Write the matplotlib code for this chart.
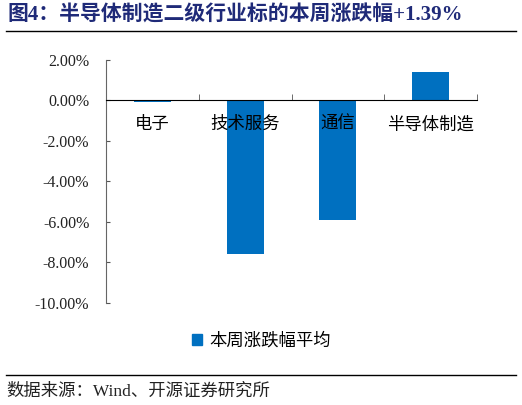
import matplotlib.pyplot as plt
from matplotlib.patches import Patch
from matplotlib.ticker import FuncFormatter, FixedLocator

plt.rcParams['font.family'] = ['Liberation Serif', 'Noto Sans CJK SC', 'DejaVu Sans']

# 数据
categories = ['电子', '技术服务', '通信', '半导体制造']
weekly_change = [-0.08, -7.60, -5.92, 1.39]
series_name = '本周涨跌幅平均'
title = '图4：半导体制造二级行业标的本周涨跌幅+1.39%'
source = '数据来源：Wind、开源证券研究所'

bar_color = '#0070C0'
navy = '#1F2A78'

fig = plt.figure(figsize=(5.22, 4.05), dpi=100)
ax = fig.add_axes([0.203, 0.252, 0.711, 0.600])

x = list(range(len(categories)))
ax.bar(x, weekly_change, width=0.4, color=bar_color, zorder=1)

ax.set_xlim(-0.5, len(categories) - 0.5)
ax.set_ylim(-10, 2)
ax.set_yticks([2, 0, -2, -4, -6, -8, -10])
ax.yaxis.set_major_formatter(FuncFormatter(lambda v, p: f'{v:.2f}%'))
for t in ax.get_yticklabels():
    t.set_fontsize(11.5)
    t.set_color('#222222')
ax.tick_params(axis='y', direction='in', length=3, pad=12, color='#555555')

for s in ['top', 'right']:
    ax.spines[s].set_visible(False)
ax.spines['left'].set_color('#666666')
ax.spines['bottom'].set_position(('data', 0))
ax.spines['bottom'].set_color('black')
ax.spines['bottom'].set_zorder(3)

ax.set_xticks(x)
ax.set_xticklabels(categories, fontsize=12.5, zorder=4)
ax.tick_params(axis='x', which='major', length=0, pad=12)
ax.xaxis.set_minor_locator(FixedLocator([i + 0.5 for i in range(-1, len(categories))]))
ax.tick_params(axis='x', which='minor', direction='in', length=4, color='#555555')

fig.legend(handles=[Patch(color=bar_color, label=series_name)], loc='center',
           bbox_to_anchor=(0.5, 0.158), frameon=False, fontsize=12.5,
           handlelength=0.6, handleheight=0.6, handletextpad=0.4)

fig.text(0.015, 0.962, title, fontsize=15, fontweight='bold', color=navy,
         va='center', ha='left')
fig.add_artist(plt.Line2D([0.012, 0.988], [0.923, 0.923], color='black', lw=1))
fig.add_artist(plt.Line2D([0.012, 0.988], [0.074, 0.074], color='black', lw=1))
fig.text(0.012, 0.032, source, fontsize=12.5, color='#222222', va='center', ha='left')

fig.savefig('out.png', dpi=100)
